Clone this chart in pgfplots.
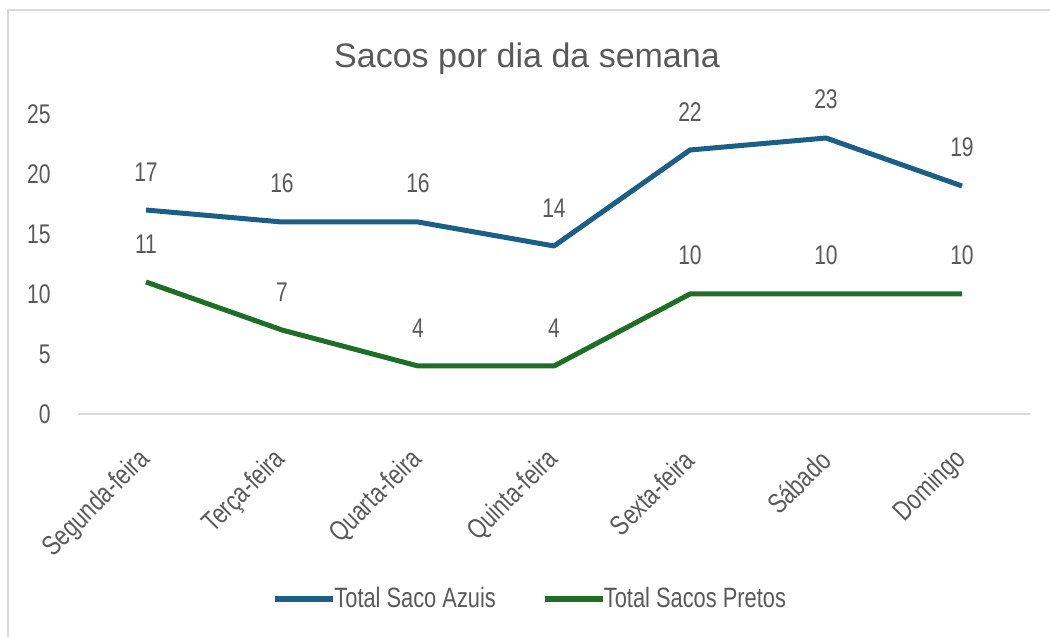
\documentclass[border=0pt]{standalone}
\usepackage{fontspec}
\setmainfont{Liberation Sans}
\usepackage{graphicx}
\usepackage{pgfplots}
\pgfplotsset{compat=1.18}
\definecolor{txt}{HTML}{595959}
\definecolor{azul}{HTML}{1B5E86}
\definecolor{verde}{HTML}{1E6E28}
\definecolor{frame}{HTML}{D9D9D9}
\newcommand\nar[1]{\scalebox{0.78}[1]{#1}}

\begin{document}
\begin{tikzpicture}[x=1pt,y=1pt]
\useasboundingbox (0,0) rectangle (1050,637);
\draw[frame, line width=2pt] (8,0) -- (8,627) -- (1050,627);
\node[text=txt, font=\fontsize{34}{40}\selectfont] at (527,578) {Sacos por dia da semana};
\begin{axis}[
  at={(78pt,223pt)}, anchor=south west,
  scale only axis, width=952pt, height=300pt,
  xmin=-0.5, xmax=6.5, ymin=0, ymax=25,
  ytick={0,5,10,15,20,25},
  xtick={0,...,6},
  xticklabels={\nar{Segunda-feira},\nar{Terça-feira},\nar{Quarta-feira},\nar{Quinta-feira},\nar{Sexta-feira},\nar{Sábado},\nar{Domingo}},
  yticklabel={\nar{\pgfmathprintnumber{\tick}}},
  axis lines=left,
  x axis line style={-, draw=frame, line width=2pt},
  y axis line style={draw=none},
  major tick length=0pt,
  tick label style={text=txt, font=\fontsize{27}{30}\selectfont},
  /pgf/number format/assume math mode=true,
  yticklabel style={anchor=east, xshift=-24pt},
  xticklabel style={font=\fontsize{28}{30}\selectfont, yshift=-39pt, xshift=2pt, rotate=45, anchor=east},
  nodes near coords={\nar{\pgfmathprintnumber{\pgfplotspointmeta}}},
  every node near coord/.append style={text=txt, font=\fontsize{27}{30}\selectfont, yshift=23pt},
  legend style={at={(0.475,-0.615)}, anchor=center, draw=none, fill=none,
    legend columns=2, font=\fontsize{28}{30}\selectfont, text=txt,
    /tikz/every even column/.append style={column sep=44pt}},
  legend image code/.code={\draw[#1, line width=6pt] (0pt,0pt) -- (58pt,0pt);},
  legend cell align=left,
]
\addplot[azul, line width=5pt, line join=round] coordinates {
(0,17)(1,16)(2,16)(3,14)(4,22)(5,23)(6,19)
};
\addlegendentry{\hspace{-4pt}\nar{Total Saco Azuis}}
\addplot[verde, line width=5pt, line join=round] coordinates {
(0,11)(1,7)(2,4)(3,4)(4,10)(5,10)(6,10)
};
\addlegendentry{\hspace{-4pt}\nar{Total Sacos Pretos}}
\end{axis}
\end{tikzpicture}
\end{document}
